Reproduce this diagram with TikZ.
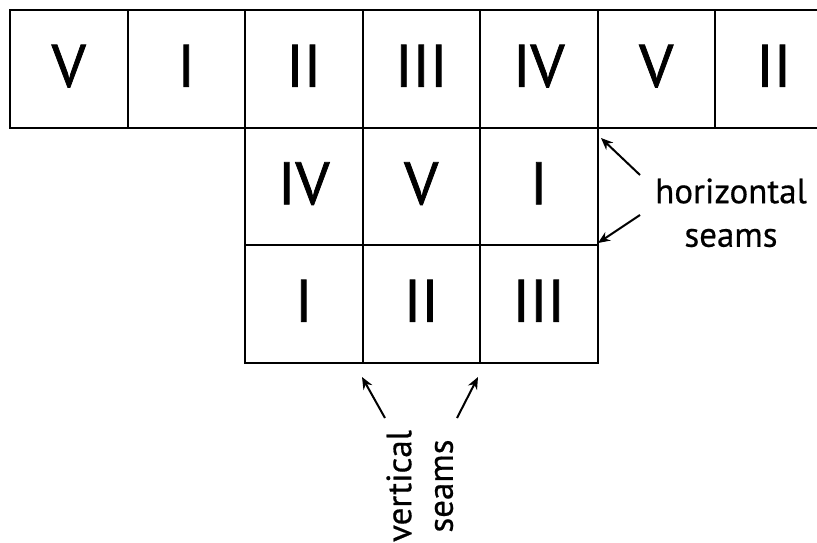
\documentclass[tikz,border=0pt]{standalone}
\usepackage{fontspec}
\setmainfont[FakeBold=0.5]{PT Sans}
\newfontfamily\numfont[FakeBold=1.2]{PT Sans}
\usetikzlibrary{arrows.meta}
\begin{document}
\begin{tikzpicture}[x=1pt,y=-1pt,
  cell/.style={draw,line width=2pt,minimum size=117.5pt,inner sep=0pt,outer sep=0pt,
    text depth=6pt,font=\numfont\fontsize{60}{60}\selectfont},
  lab/.style={font=\fontsize{35}{38}\selectfont,inner sep=0pt},
  seam/.style={-{Stealth[length=12pt,width=10pt]},line width=2pt}]
\useasboundingbox (0,0) rectangle (817,542);
\clip (0,0) rectangle (817,542);
\fill[white] (0,0) rectangle (817,542);
% top row
\node[cell] (t1) at (68.75,68.75) {V};
\node[cell] (t2) at (186.25,68.75) {I};
\node[cell] (t3) at (303.75,68.75) {II};
\node[cell] (t4) at (421.25,68.75) {III};
\node[cell] (t5) at (538.75,68.75) {IV};
\node[cell] (t6) at (656.25,68.75) {V};
\node[cell] (t7) at (773.75,68.75) {II};
% second row
\node[cell] (m1) at (303.75,186.25) {IV};
\node[cell] (m2) at (421.25,186.25) {V};
\node[cell] (m3) at (538.75,186.25) {I};
% third row
\node[cell] (b1) at (303.75,303.75) {I};
\node[cell] (b2) at (421.25,303.75) {II};
\node[cell] (b3) at (538.75,303.75) {III};
% labels
\node[lab] (hz) at (731,191) {horizontal};
\node[lab] (hs) at (731,238) {seams};
\node[lab,rotate=90] (vv) at (399,486) {vertical};
\node[lab,rotate=90] (vs) at (444,486) {seams};
% arrow tails and tips
\coordinate (ht1) at (640,175);
\coordinate (hh1) at (601,138);
\coordinate (ht2) at (640,215);
\coordinate (hh2) at (598,243);
\coordinate (vt1) at (385,418);
\coordinate (vh1) at (362,377);
\coordinate (vt2) at (457,418);
\coordinate (vh2) at (478,377);
\draw[seam] (ht1) -- (hh1);
\draw[seam] (ht2) -- (hh2);
\draw[seam] (vt1) -- (vh1);
\draw[seam] (vt2) -- (vh2);
\end{tikzpicture}
\end{document}
